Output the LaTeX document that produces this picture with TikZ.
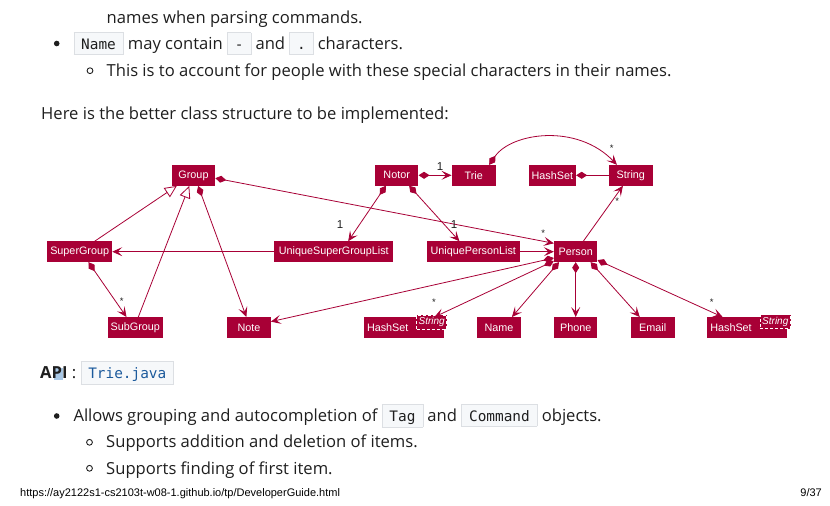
\documentclass[tikz,border=0pt]{standalone}
\usepackage{fontspec}
\setmainfont{Open Sans}
\setmonofont{DejaVu Sans Mono}
\newfontfamily\umlfont{Liberation Sans}
\usetikzlibrary{arrows.meta}
\definecolor{plred}{HTML}{A80036}
\definecolor{inkc}{HTML}{1F1F1F}
\definecolor{codebg}{HTML}{F6F8FA}
\definecolor{codeline}{HTML}{DCDFE3}
\definecolor{codeblue}{HTML}{1C5A9C}
\definecolor{selblue}{HTML}{A9C8E6}
\newcommand{\cbox}[1]{{\setlength{\fboxsep}{2.5pt}\setlength{\fboxrule}{0.6pt}%
  \fcolorbox{codeline}{codebg}{\hspace{4.6pt}\rule[-2.6pt]{0pt}{16.4pt}\fontsize{14.4}{16}\ttfamily #1\hspace{4.6pt}}}}
\begin{document}
\begin{tikzpicture}[x=1pt,y=-1pt,
  cls/.style={fill=plred,text=white,font=\umlfont\fontsize{10.8}{12}\selectfont,minimum height=20.5pt,inner sep=0pt},
  tmpl/.style={fill=plred,draw=white,densely dashed,line width=0.5pt,text=white,font=\umlfont\itshape\fontsize{10}{12}\selectfont,inner sep=0pt,minimum height=14pt},
  rel/.style={draw=plred,line width=0.8pt},
  comp/.style={rel,arrows={Diamond[length=11pt,width=7pt]-Stealth[length=10pt,width=9pt,inset=4.5pt]}},
  own/.style={rel,arrows={Diamond[length=11pt,width=7pt]-}},
  assoc/.style={rel,arrows={-Stealth[length=10pt,width=9pt,inset=4.5pt]}},
  isa/.style={rel,arrows={-Triangle[open,length=12pt,width=11pt,fill=white]}},
  mult/.style={font=\umlfont\fontsize{11.5}{12}\selectfont,text=inkc,inner sep=0pt},
  many/.style={font=\umlfont\fontsize{9.5}{10}\selectfont,text=inkc,inner sep=0pt},
  txt/.style={anchor=base west,inner sep=0pt,text=inkc,font=\fontsize{16.6}{20}\selectfont}]
\useasboundingbox[fill=white] (0,0) rectangle (830,506);

\node[txt] (line1) at (106.5,23.3) {names when parsing commands.};
\fill[inkc] (56.7,43.5) circle (2.8);
\node[txt] (line2) at (73.3,49.3) {\cbox{Name} may contain \cbox{-} and \cbox{.} characters.};
\draw[inkc,line width=0.9pt] (90,70.7) circle (2.9);
\node[txt] (line3) at (106.5,76) {This is to account for people with these special characters in their names.};
\node[txt] (intro) at (41,119) {Here is the better class structure to be implemented:};

\node[cls,minimum width=43.3pt] (group) at (193.5,175.5) {Group};
\node[cls,minimum width=64.7pt] (supergroup) at (79.7,251.7) {SuperGroup};
\node[cls,minimum width=54.7pt] (subgroup) at (135.3,327.5) {SubGroup};
\node[cls,minimum width=43.3pt] (note) at (249,327.5) {Note};
\node[cls,minimum width=43.3pt] (notor) at (396.7,175.3) {Notor};
\node[cls,minimum width=44pt] (trie) at (473.7,175.3) {Trie};
\node[cls,minimum width=47.3pt] (hashset) at (552.3,175.3) {HashSet};
\node[cls,minimum width=43.7pt] (string) at (630.8,175.3) {String};
\node[cls,minimum width=119pt] (usgl) at (333.8,251.7) {UniqueSuperGroupList};
\node[cls,minimum width=93.3pt] (upl) at (473.3,251.7) {UniquePersonList};
\node[cls,minimum width=43.3pt] (person) at (575.7,251.7) {Person};
\node[cls,text width=74pt,align=left,inner xsep=3pt] (tagset) at (404,327.5) {HashSet};
\node[tmpl,minimum width=30pt] (tagtype) at (431.7,322) {String};
\node[cls,minimum width=43.3pt] (name) at (499,327.5) {Name};
\node[cls,minimum width=43.3pt] (phone) at (575.7,327.5) {Phone};
\node[cls,minimum width=44pt] (email) at (652.7,327.5) {Email};
\node[cls,text width=74pt,align=left,inner xsep=3pt] (aliasset) at (747.3,327.5) {HashSet};
\node[tmpl,minimum width=30.7pt] (aliastype) at (775.3,321.7) {String};

\draw[comp] (group.353) -- (person.159);
\draw[comp] (group.294) -- (note.104);
\draw[isa] (supergroup.35) -- (group.212);
\draw[isa] (subgroup.74) -- (group.248);
\draw[comp] (supergroup.310) -- (subgroup.130);
\draw[assoc] (usgl.west) -- (supergroup.east);
\draw[comp] (notor.east) -- (trie.west);
\draw[comp] (notor.224) -- (usgl.36.5);
\draw[comp] (notor.320) -- (upl.143);
\draw[assoc] (upl.east) -- (person.west);
\draw[comp] (trie.34) .. controls +(22,-32) and +(-40,-42) .. (string.143);
\draw[own] (hashset.east) -- (string.west);
\draw[assoc] (person.54) -- (string.233);
\draw[comp] (person.196) -- (note.15);
\draw[comp] (person.203) -- (tagset.19);
\draw[comp] (person.212) -- (name.39);
\draw[comp] (person.south) -- (phone.north);
\draw[comp] (person.325) -- (email.141);
\draw[comp] (person.339) -- (aliasset.157);

\node[many] (m1) at (543.3,233) {*};
\node[many] (m2) at (121.7,301) {*};
\node[mult] (m3) at (340,225) {1};
\node[mult] (m4) at (454,224.3) {1};
\node[mult] (m5) at (440,166.7) {1};
\node[many] (m6) at (611.7,148.7) {*};
\node[many] (m7) at (617.3,201) {*};
\node[many] (m8) at (434,302) {*};
\node[many] (m9) at (711.7,302) {*};

\fill[selblue] (54.3,368.3) rectangle (63.3,380.3);
\node[txt] (api) at (40,378.3) {\textbf{API} : \cbox{\color{codeblue}Trie.java}};
\fill[inkc] (56.7,416) circle (2.8);
\node[txt] (line4) at (73.3,421) {Allows grouping and autocompletion of \cbox{Tag} and \cbox{Command} objects.};
\draw[inkc,line width=0.9pt] (89.5,442.3) circle (2.9);
\node[txt] (line5) at (106,447.7) {Supports addition and deletion of items.};
\draw[inkc,line width=0.9pt] (89.5,468.3) circle (2.9);
\node[txt] (line6) at (106,474) {Supports finding of first item.};
\node[anchor=base west,inner sep=0pt,font=\umlfont\fontsize{11}{13}\selectfont] (url) at (20,496.7) {https://ay2122s1-cs2103t-w08-1.github.io/tp/DeveloperGuide.html};
\node[anchor=base east,inner sep=0pt,font=\umlfont\fontsize{11}{13}\selectfont] (page) at (822,496.7) {9/37};
\end{tikzpicture}
\end{document}
